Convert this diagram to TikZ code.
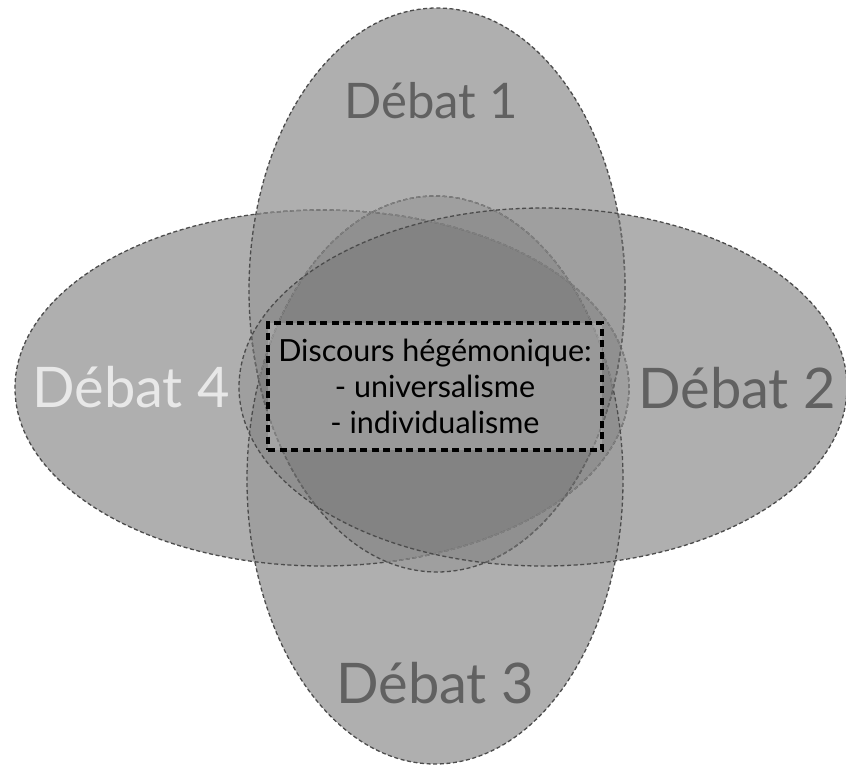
\documentclass[tikz,border=0pt]{standalone}
\usepackage{fontspec}
\setmainfont{Lato}
\definecolor{vennbase}{gray}{0.757}
\definecolor{vennline}{gray}{0.30}
\definecolor{vennfaint}{gray}{0.50}
\definecolor{vennmid}{gray}{0.40}
\definecolor{darklabel}{gray}{0.38}
\definecolor{lightlabel}{gray}{0.91}
% the four debates
\def\ellL{(322,388) ellipse [x radius=307pt, y radius=178pt]}
\def\ellB{(435,480) ellipse [x radius=188pt, y radius=284pt]}
\def\ellT{(437,290) ellipse [x radius=188pt, y radius=282pt]}
\def\ellR{(543,387) ellipse [x radius=304pt, y radius=179pt]}
\begin{document}
\begin{tikzpicture}[x=1pt,y=-1pt,
  vennshade/.style={fill=black, fill opacity=0.09},
  vennedge/.style={draw=#1, line width=1.3pt, dash pattern=on 4pt off 2.6pt},
  vennedge/.default=vennline,
  debatlabel/.style={anchor=base, inner sep=0pt,
    font=\fontsize{56}{60}\selectfont},
  hegbox/.style={draw=black, line width=4pt, dash pattern=on 7pt off 4.5pt,
    fill=white, fill opacity=0.18, text opacity=1, text=black,
    minimum width=334pt, minimum height=127pt, align=center,
    font=\fontsize{30.5}{36}\selectfont}]
\useasboundingbox (0,0) rectangle (846,766);

% common base tone of all shapes
\fill[vennbase] \ellL \ellB \ellT \ellR;
% each shape darkens what lies under it
\fill[vennshade] \ellL;
\fill[vennshade] \ellB;
\fill[vennshade] \ellT;
\fill[vennshade] \ellR;

% outlines, back to front: parts covered by later shapes look fainter
\path[vennedge] \ellL;
\begin{scope}\clip \ellR; \path[vennedge=vennfaint] \ellL; \end{scope}
\begin{scope}\clip \ellT; \path[vennedge=vennfaint] \ellL; \end{scope}
\path[vennedge] \ellB;
\begin{scope}\clip \ellT; \path[vennedge=vennfaint] \ellB; \end{scope}
\path[vennedge] \ellT;
\begin{scope}\clip \ellR; \path[vennedge=vennmid] \ellT; \end{scope}
\path[vennedge] \ellR;

% labels
\node[debatlabel, text=darklabel, font=\fontsize{49}{52}\selectfont] (d1) at (431,118) {Débat 1};
\node[debatlabel, text=darklabel] (d2) at (737,408) {Débat 2};
\node[debatlabel, text=darklabel] (d3) at (435,703) {Débat 3};
\node[debatlabel, text=lightlabel] (d4) at (131,407) {Débat 4};

% shared core
\node[hegbox] (core) at (435,386.5)
  {Discours hégémonique:\\- universalisme\\- individualisme};
\end{tikzpicture}
\end{document}
